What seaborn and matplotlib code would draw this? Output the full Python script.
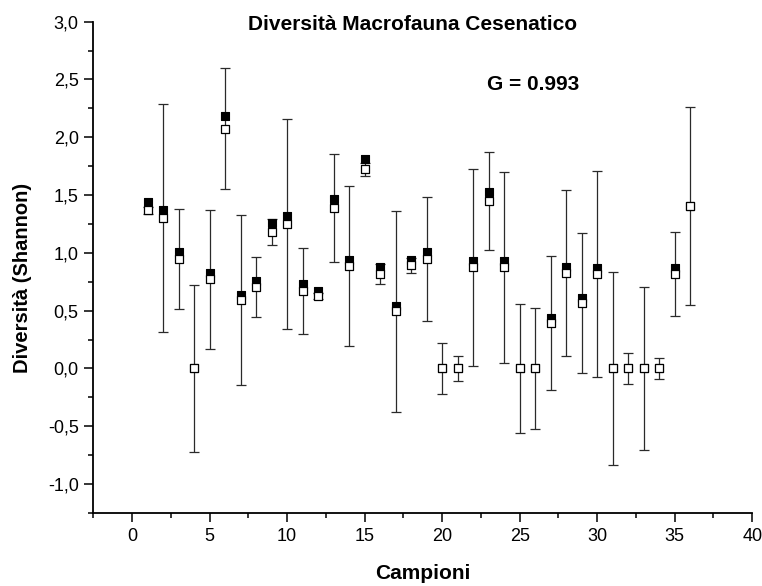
import matplotlib
matplotlib.use("Agg")
import matplotlib.pyplot as plt
from matplotlib.ticker import MultipleLocator, FuncFormatter
import numpy as np
import pandas as pd
import seaborn as sns

# Shannon diversity per sample (Cesenatico macrofauna)
campioni = list(range(1, 37))
shannon_open = [1.370, 1.303, 0.947, 0.000, 0.772, 2.073, 0.592, 0.706, 1.180,
                1.247, 0.672, 0.627, 1.388, 0.886, 1.723, 0.818, 0.496, 0.893,
                0.950, 0.000, 0.000, 0.876, 1.448, 0.874, 0.000, 0.000, 0.396,
                0.825, 0.564, 0.817, 0.000, 0.000, 0.000, 0.000, 0.819, 1.408]
shannon_filled = [1.443, 1.374, 1.010, 0.000, 0.829, 2.184, 0.636, 0.757, 1.255,
                  1.317, 0.728, 0.673, 1.463, 0.935, 1.810, 0.881, 0.541, 0.938,
                  1.010, 0.000, 0.000, 0.933, 1.524, 0.930, 0.000, 0.000, 0.434,
                  0.881, 0.607, 0.872, 0.000, 0.000, 0.000, 0.000, 0.872, 1.408]
errore = [0.030, 0.985, 0.435, 0.720, 0.600, 0.524, 0.734, 0.258, 0.111,
          0.908, 0.374, 0.030, 0.470, 0.689, 0.058, 0.087, 0.870, 0.064,
          0.536, 0.220, 0.107, 0.853, 0.423, 0.829, 0.562, 0.525, 0.581,
          0.720, 0.605, 0.892, 0.835, 0.137, 0.708, 0.087, 0.365, 0.857]

df = pd.DataFrame({"campione": campioni, "H_open": shannon_open,
                   "H_filled": shannon_filled, "err": errore})

sns.set_style("ticks")
plt.rcParams["font.family"] = ["Liberation Sans", "DejaVu Sans"]
plt.rcParams["text.color"] = "black"
plt.rcParams["axes.labelcolor"] = "black"

fig = plt.figure(figsize=(7.62, 5.86), dpi=100)
ax = fig.add_axes([0.1224, 0.1246, 0.8648, 0.8384])

# error bars around the open-square series
ax.errorbar(df["campione"], df["H_open"], yerr=df["err"], fmt="none",
            ecolor="#2a2a2a", elinewidth=0.9, capsize=3.6, capthick=0.9, zorder=2)

sns.scatterplot(data=df, x="campione", y="H_filled", marker="s", s=38,
                color="black", edgecolor="black", linewidth=0.8, ax=ax, zorder=3)
sns.scatterplot(data=df, x="campione", y="H_open", marker="s", s=38,
                color="white", edgecolor="black", linewidth=0.9, ax=ax, zorder=4)

ax.set_xlim(-2.5, 40)
ax.set_ylim(-1.25, 3.0)
ax.xaxis.set_major_locator(MultipleLocator(5))
ax.xaxis.set_minor_locator(MultipleLocator(2.5))
ax.yaxis.set_major_locator(MultipleLocator(0.5))
ax.yaxis.set_minor_locator(MultipleLocator(0.25))
ax.yaxis.set_major_formatter(FuncFormatter(lambda v, p: f"{v:.1f}".replace(".", ",")))

sns.despine(ax=ax)
for s in ("left", "bottom"):
    ax.spines[s].set_linewidth(1.3)
    ax.spines[s].set_color("black")
ax.tick_params(which="major", direction="out", length=6.5, width=1.1,
               labelsize=13, pad=4, colors="black")
ax.tick_params(which="minor", direction="out", length=3.5, width=1.1, colors="black")

ax.set_xlabel("Campioni", fontsize=15, fontweight="bold", color="black")
ax.set_ylabel("Diversità (Shannon)", fontsize=14.5, fontweight="bold", color="black")
ax.xaxis.set_label_coords(0.5, -0.103)
ax.yaxis.set_label_coords(-0.093, 0.479)

fig.text(412.5 / 762, 1 - 30 / 586, "Diversità Macrofauna Cesenatico",
         ha="center", va="baseline", fontsize=15, fontweight="bold", color="black")
ax.text(0.597, 0.861, "G = 0.993", transform=ax.transAxes, ha="left",
        va="baseline", fontsize=15, fontweight="bold", color="black")

fig.savefig("out.png", dpi=100)
